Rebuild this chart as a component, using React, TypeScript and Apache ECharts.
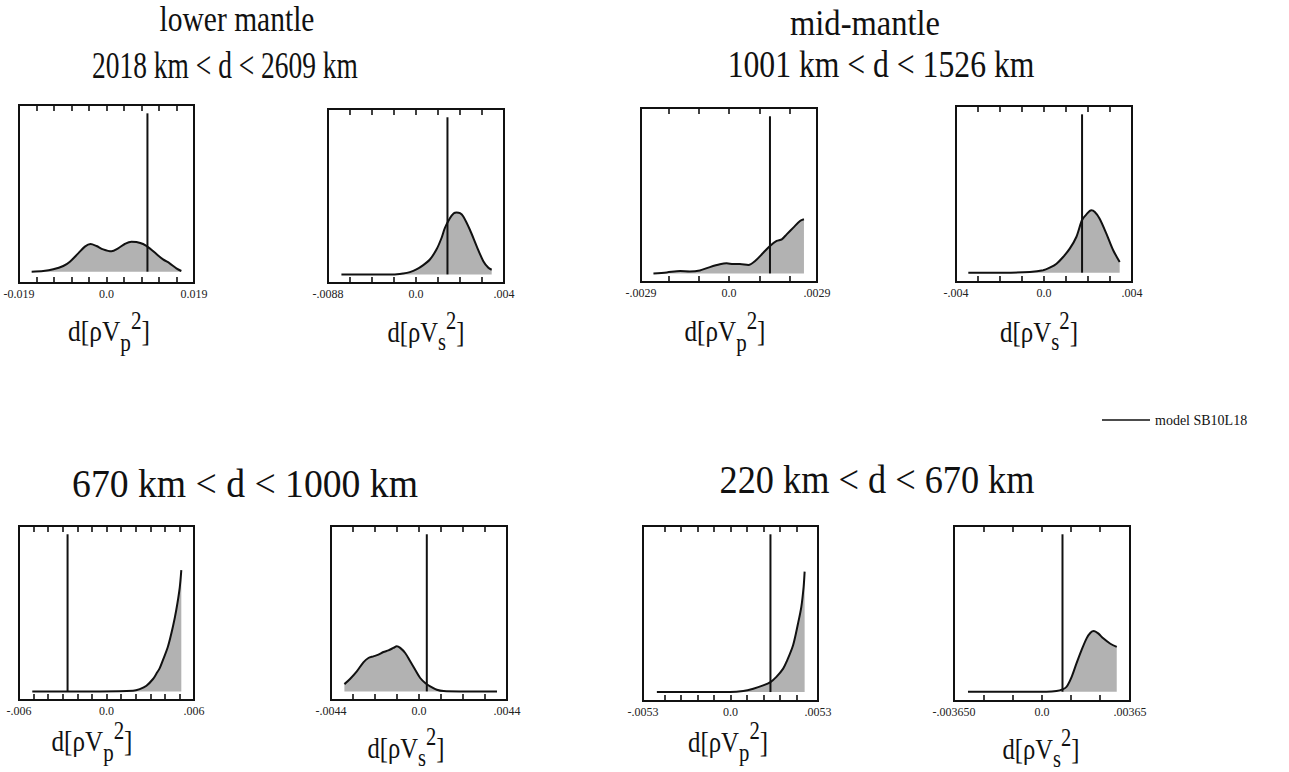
import React, { useEffect, useRef } from "react";
import * as echarts from "echarts";

// ---- density curves (x = perturbation, y = relative frequency) ----
const lowerVpX = [-0.01625, -0.01373, -0.01156, -0.00939, -0.00795, -0.00614, -0.0047, -0.00347, -0.00217, -0.00072, 0.00108, 0.00253, 0.00397, 0.00542, 0.0065, 0.00795, 0.00939, 0.01084, 0.01228, 0.01372, 0.01517, 0.01625];
const lowerVpY = [0, 0.4, 1.4, 3.4, 6, 11, 15, 16.6, 15.4, 13.4, 12.2, 14, 16.6, 18, 17.8, 16.6, 14, 10.6, 7.4, 5, 2, 0.4];
const lowerVsX = [-0.00339, -0.00225, -0.00104, -0.00058, -0.00028, 0.00002, 0.00033, 0.00063, 0.00093, 0.00116, 0.00131, 0.00154, 0.00172, 0.00184, 0.002, 0.00215, 0.00245, 0.00276, 0.00306, 0.00329, 0.00344];
const lowerVsY = [0, 0, 0, 0.6, 1.4, 3, 5.6, 9, 15, 22, 28, 34, 37, 37.4, 37, 35, 27, 17, 8, 4, 2.8];
const midVpX = [-0.00249, -0.00205, -0.00161, -0.00129, -0.00096, -0.00063, -0.0003, -0.00008, 0.00014, 0.00036, 0.00064, 0.00086, 0.00113, 0.00135, 0.00157, 0.00174, 0.0019, 0.00212, 0.00234, 0.00247];
const midVpY = [0, 0.6, 1.4, 1.2, 1.8, 3.8, 5.5, 6.1, 5.7, 5.7, 5.1, 7.5, 12.5, 16.6, 19.6, 20.6, 23.6, 27.7, 31.7, 32.7];
const midVsX = [-0.00344, -0.00185, -0.00064, -0.00004, 0.00026, 0.00057, 0.00087, 0.00117, 0.00147, 0.00173, 0.00193, 0.00215, 0.00231, 0.00253, 0.00283, 0.00314, 0.00344];
const midVsY = [0, 0, 0.4, 1.4, 3, 5.4, 9.4, 14.4, 21.4, 31.6, 35, 37.4, 36.4, 32.4, 23.6, 13.6, 6.4];
const tzVpX = [-0.00509, -0.00046, 0.00182, 0.00228, 0.00274, 0.00319, 0.00342, 0.00365, 0.00388, 0.00422, 0.00456, 0.00479, 0.00502, 0.00513];
const tzVpY = [0, 0, 0.4, 1.4, 3.4, 7.5, 10.7, 14.1, 19.2, 27.3, 39.4, 49.5, 62.6, 73.3];
const tzVsX = [-0.00373, -0.00345, -0.00311, -0.00278, -0.00253, -0.00228, -0.00203, -0.00178, -0.00153, -0.00128, -0.00111, -0.00094, -0.00069, -0.00044, -0.00019, 0.00006, 0.00031, 0.00056, 0.00089, 0.00123, 0.00206, 0.0039];
const tzVsY = [4.4, 7.5, 12.1, 17.6, 20.2, 21.2, 22.2, 23.8, 24.8, 26.3, 27.3, 26.3, 23.2, 18.2, 13.1, 8.1, 5.1, 3.0, 1.0, 0.2, 0, 0];
const umVpX = [-0.00446, -0.00003, 0.00077, 0.00138, 0.00198, 0.00242, 0.00278, 0.00319, 0.00339, 0.00379, 0.00409, 0.00429, 0.00443, 0.00449];
const umVpY = [0, 0, 0.6, 2.0, 4.0, 6.0, 9.1, 14.1, 18.1, 28.2, 41.3, 51.3, 63.4, 72.5];
const umVsX = [-0.00307, 0.00019, 0.0006, 0.00085, 0.00102, 0.00123, 0.00143, 0.00164, 0.00185, 0.00201, 0.00215, 0.00233, 0.00254, 0.00282, 0.0031];
const umVsY = [0, 0, 0.4, 1.4, 3.0, 9.0, 17.1, 25.1, 32.2, 35.6, 36.6, 35.2, 32.2, 29.1, 27.1];

// ---- model SB10L18 values (vertical lines) ----
const modelValues = [0.00889, 0.00143, 0.00135, 0.00173, -0.00267, 0.00039, 0.00242, 0.00085];
const modelLineTop = 95;

// ---- axis ranges, tick positions and tick labels ----
const axisMin = [-0.019, -0.004, -0.0029, -0.004, -0.006, -0.0044, -0.0053, -0.00365];
const axisMax = [0.019, 0.004, 0.0029, 0.004, 0.006, 0.0044, 0.0053, 0.00365];
const ticksLowerVp = [-0.0152, -0.0114, -0.0076, -0.0038, 0, 0.0038, 0.0076, 0.0114, 0.0152];
const ticksLowerVs = [-0.003, -0.002, -0.001, 0, 0.001, 0.002, 0.003];
const ticksMidVp = [-0.002, -0.001, 0, 0.001, 0.002];
const ticksMidVs = [-0.003, -0.002, -0.001, 0, 0.001, 0.002, 0.003];
const ticksTzVp = [-0.005, -0.004, -0.003, -0.002, -0.001, 0, 0.001, 0.002, 0.003, 0.004, 0.005];
const ticksTzVs = [-0.0033, -0.0022, -0.0011, 0, 0.0011, 0.0022, 0.0033];
const ticksUmVp = [-0.004, -0.003, -0.002, -0.001, 0, 0.001, 0.002, 0.003, 0.004];
const ticksUmVs = [-0.0024, -0.0012, 0, 0.0012, 0.0024];
const tickLabels = [
  ["-0.019", "0.0", "0.019"],
  ["-.0088", "0.0", ".004"],
  ["-.0029", "0.0", ".0029"],
  ["-.004", "0.0", ".004"],
  ["-.006", "0.0", ".006"],
  ["-.0044", "0.0", ".0044"],
  ["-.0053", "0.0", ".0053"],
  ["-.003650", "0.0", ".00365"],
];

const seriesX = [lowerVpX, lowerVsX, midVpX, midVsX, tzVpX, tzVsX, umVpX, umVsX];
const seriesY = [lowerVpY, lowerVsY, midVpY, midVsY, tzVpY, tzVsY, umVpY, umVsY];
const seriesTicks = [ticksLowerVp, ticksLowerVs, ticksMidVp, ticksMidVs, ticksTzVp, ticksTzVs, ticksUmVp, ticksUmVs];
const subscripts = ["p", "s", "p", "s", "p", "s", "p", "s"];

// ---- headings ----
const depthTitles = ["2018 km < d < 2609 km", "1001 km < d < 1526 km", "670 km < d < 1000 km", "220 km < d < 670 km"];
const regionTitles = ["lower mantle", "mid-mantle"];
const legendText = "model SB10L18";

// ---- layout (pixels) ----
const boxes = [
  [19, 105, 175, 178],
  [328, 109, 176, 174],
  [641, 108, 176, 174],
  [956, 106, 176, 176],
  [19, 526, 175, 174],
  [331, 526, 176, 174],
  [643, 526, 175, 175],
  [954, 526, 176, 175],
];
const yMins = [-6.8, -5.2, -5.2, -5.6, -5.2, -5.2, -5.4, -5.6];
const yMax = 100;
const TICK_PX = 6;
const axisTitlePos = [
  [109, 331, 82],
  [426, 332, 77],
  [725, 331, 81],
  [1039, 332, 78],
  [92, 741, 81],
  [406, 748, 77],
  [728, 742, 80],
  [1041, 749, 77],
];
const regionTitlePos = [
  [237, 19, 155],
  [865, 22, 150],
];
const depthTitlePos = [
  [225, 65, 266],
  [881, 65, 307],
  [245, 483, 346],
  [877, 479, 315],
];

const FONT = "'Liberation Serif', 'DejaVu Serif', serif";
const INK = "#111";
const FILL = "#b2b2b2";

let measureCtx: CanvasRenderingContext2D | null = null;
function textWidth(text: string, size: number): number {
  if (!measureCtx) measureCtx = document.createElement("canvas").getContext("2d");
  if (!measureCtx) return text.length * size * 0.5;
  measureCtx.font = `${size}px ${FONT}`;
  return measureCtx.measureText(text).width;
}

function squeezedText(text: string, cx: number, cy: number, size: number, targetW: number) {
  const w = textWidth(text, size);
  return {
    type: "text",
    x: cx,
    y: cy,
    scaleX: targetW / w,
    style: {
      text,
      fontSize: size,
      fontFamily: FONT,
      fill: INK,
      textAlign: "center",
      textVerticalAlign: "middle",
      align: "center",
      verticalAlign: "middle",
    },
  };
}

// d[ρV_sub^2] built from four text runs, squeezed to the requested width
function axisTitle(sub: string, cx: number, cy: number, targetW: number) {
  const fs = 30;
  const sfs = 25;
  const parts = [
    { t: "d[ρV", size: fs, dy: 0 },
    { t: sub, size: sfs, dy: sub === "p" ? 11 : 10 },
    { t: "2", size: sfs, dy: -11 },
    { t: "]", size: fs, dy: 0 },
  ];
  const widths = parts.map((p) => textWidth(p.t, p.size));
  const total = widths.reduce((a, b) => a + b, 0);
  let x = -total / 2;
  const children = parts.map((p, i) => {
    const el = {
      type: "text",
      x,
      y: p.dy,
      style: {
        text: p.t,
        fontSize: p.size,
        fontFamily: FONT,
        fill: INK,
        textAlign: "left",
        textVerticalAlign: "middle",
        align: "left",
        verticalAlign: "middle",
      },
    };
    x += widths[i];
    return el;
  });
  return { type: "group", x: cx, y: cy, scaleX: targetW / total, children };
}

export default function App() {
  const ref = useRef<HTMLDivElement>(null);

  useEffect(() => {
    if (!ref.current) return;
    const chart = echarts.init(ref.current, undefined, { renderer: "svg" });

    const grid: any[] = [];
    const xAxis: any[] = [];
    const yAxis: any[] = [];
    const series: any[] = [];

    boxes.forEach((b, i) => {
      const [left, top, width, height] = b;
      const min = axisMin[i];
      const max = axisMax[i];
      const labels = tickLabels[i];
      grid.push({
        left,
        top,
        width,
        height,
        show: true,
        borderColor: INK,
        borderWidth: 2,
        backgroundColor: "transparent",
      });
      xAxis.push({
        type: "value",
        gridIndex: i,
        position: "bottom",
        min,
        max,
        axisLine: { show: false, onZero: false },
        axisTick: {
          show: true,
          inside: true,
          length: TICK_PX,
          customValues: seriesTicks[i],
          lineStyle: { color: INK, width: 1.6 },
        },
        splitLine: { show: false },
        axisLabel: {
          show: true,
          customValues: [min, 0, max],
          margin: 5,
          fontSize: 12,
          fontFamily: FONT,
          color: "#222",
          formatter: (v: number) => {
            if (Math.abs(v - min) < 1e-9) return labels[0];
            if (Math.abs(v - max) < 1e-9) return labels[2];
            return labels[1];
          },
        },
      });
      yAxis.push({
        type: "value",
        gridIndex: i,
        min: yMins[i],
        max: yMax,
        show: false,
        splitLine: { show: false },
      });
      const xs = seriesX[i];
      const ys = seriesY[i];
      series.push({
        type: "line",
        xAxisIndex: i,
        yAxisIndex: i,
        data: xs.map((x, k) => [x, ys[k]]),
        smooth: 0.3,
        symbol: "none",
        lineStyle: { color: INK, width: 2 },
        areaStyle: { color: FILL, opacity: 1 },
        z: 2,
      });
      // tick marks hanging from the top edge of the frame, same positions as the bottom ticks
      const tickUnits = (TICK_PX / height) * (yMax - yMins[i]);
      series.push({
        type: "line",
        xAxisIndex: i,
        yAxisIndex: i,
        data: [
          [modelValues[i], 0],
          [modelValues[i], modelLineTop],
        ],
        symbol: "none",
        lineStyle: { color: INK, width: 2 },
        z: 3,
        markLine: {
          silent: true,
          symbol: ["none", "none"],
          label: { show: false },
          lineStyle: { color: INK, width: 1.6, type: "solid" },
          emphasis: { disabled: true },
          data: seriesTicks[i].map((t) => [
            { coord: [t, yMax] },
            { coord: [t, yMax - tickUnits] },
          ]),
        },
      });
    });

    const graphic: any[] = [];
    regionTitles.forEach((t, i) => {
      const [cx, cy, w] = regionTitlePos[i];
      graphic.push(squeezedText(t, cx, cy, 36, w));
    });
    depthTitles.forEach((t, i) => {
      const [cx, cy, w] = depthTitlePos[i];
      graphic.push(squeezedText(t, cx, cy, i < 2 ? 38 : 40, w));
    });
    subscripts.forEach((s, i) => {
      const [cx, cy, w] = axisTitlePos[i];
      graphic.push(axisTitle(s, cx, cy, w));
    });
    graphic.push({
      type: "line",
      shape: { x1: 1102, y1: 420, x2: 1150, y2: 420 },
      style: { stroke: INK, lineWidth: 1.6 },
    });
    graphic.push({
      type: "text",
      x: 1155,
      y: 420,
      style: {
        text: legendText,
        fontSize: 14,
        fontFamily: FONT,
        fill: INK,
        textAlign: "left",
        textVerticalAlign: "middle",
        align: "left",
        verticalAlign: "middle",
      },
    });

    chart.setOption({
      animation: false,
      backgroundColor: "#fff",
      grid,
      xAxis,
      yAxis,
      series,
      graphic,
    });

    return () => chart.dispose();
  }, []);

  return (
    <div
      ref={ref}
      style={{ position: "absolute", left: 0, top: 0, width: 1289, height: 772 }}
    />
  );
}
